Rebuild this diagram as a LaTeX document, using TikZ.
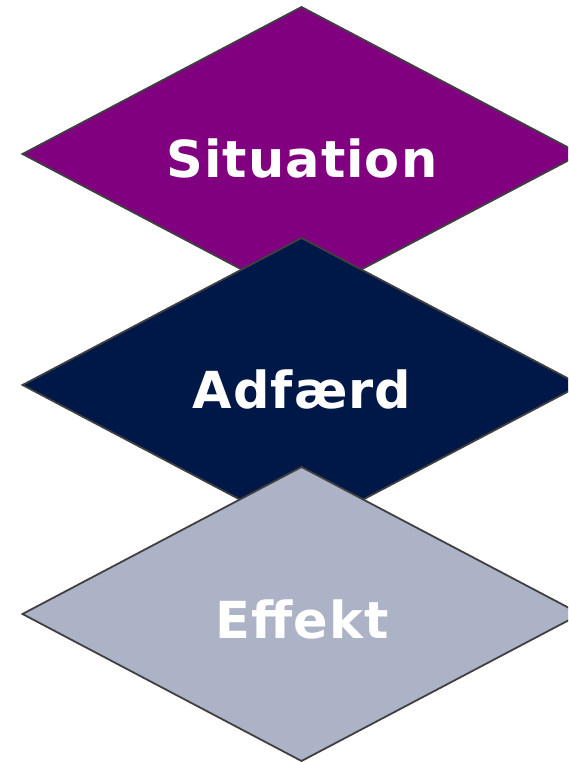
\documentclass[tikz,border=0pt]{standalone}
\usepackage{fontspec}
\setmainfont{DejaVu Sans}[LetterSpace=2]
\usetikzlibrary{calc}
\definecolor{cpurple}{HTML}{800080}
\definecolor{cnavy}{HTML}{001847}
\definecolor{cgrey}{HTML}{ADB3C7}
\definecolor{cedge}{HTML}{404040}
\begin{document}
\begin{tikzpicture}[x=1pt,y=-1pt,
  diam/.style={draw=cedge,line width=1.8pt,line join=miter},
  lbl/.style={text=white,font=\fontsize{51}{60}\selectfont\bfseries,inner sep=0pt}]
\useasboundingbox (0,0) rectangle (568,762);
\clip (0,0) rectangle (568,762);
\coordinate (c1) at (301.5,154);
\coordinate (c2) at (301.5,385);
\coordinate (c3) at (301.5,614);
\foreach \c/\col in {c1/cpurple,c2/cnavy,c3/cgrey}{
  \draw[diam,fill=\col] ($(\c)+(0,-147)$) -- ($(\c)+(279,0)$) -- ($(\c)+(0,147)$) -- ($(\c)+(-279,0)$) -- cycle;
}
\node[lbl] (t1) at (302,158) {Situation};
\node[lbl] (t2) at (302,389) {Adfærd};
\node[lbl] (t3) at (302,619) {Effekt};
\end{tikzpicture}
\end{document}
